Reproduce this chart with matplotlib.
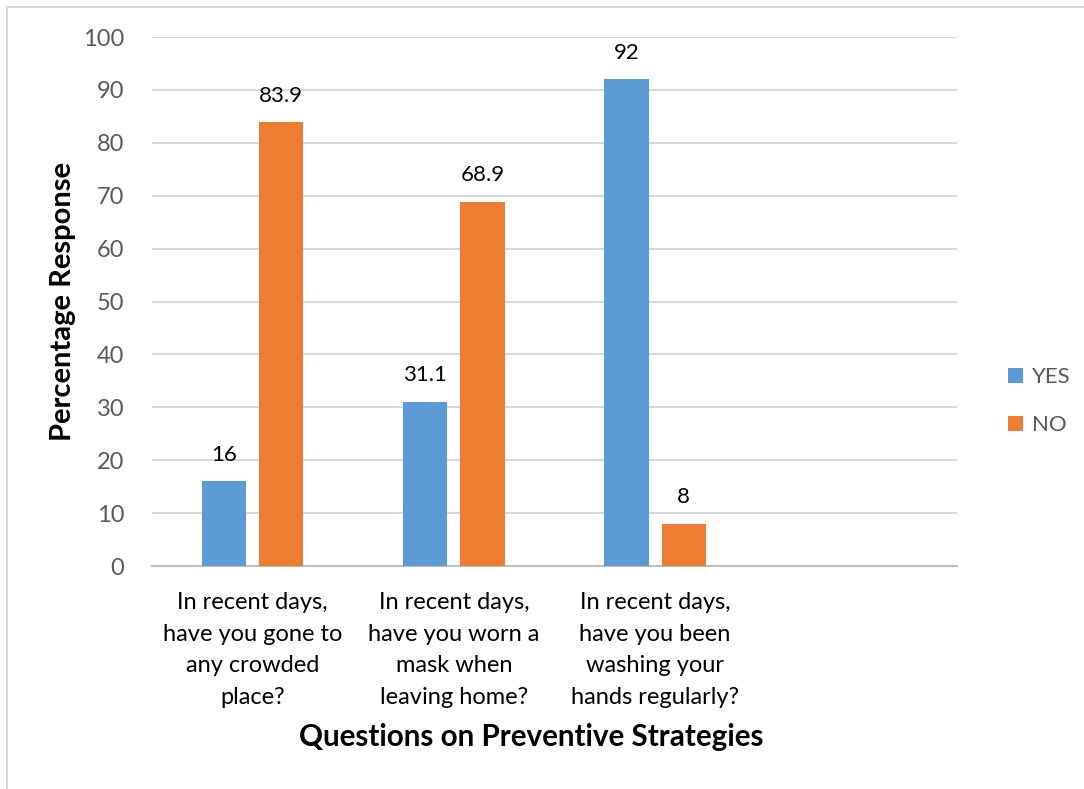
import matplotlib.pyplot as plt
from matplotlib.patches import Patch
from matplotlib.lines import Line2D

plt.rcParams['font.family'] = ['Lato', 'DejaVu Sans']

questions = [
    "In recent days,\nhave you gone to\nany crowded\nplace?",
    "In recent days,\nhave you worn a\nmask when\nleaving home?",
    "In recent days,\nhave you been\nwashing your\nhands regularly?",
    "",
]
yes_vals = [16, 31.1, 92]
no_vals = [83.9, 68.9, 8]
yes_labels = ["16", "31.1", "92"]
no_labels = ["83.9", "68.9", "8"]

blue = '#5b9bd5'
orange = '#ed7d31'
grey_txt = '#595959'

fig = plt.figure(figsize=(10.84, 7.89), dpi=100)
ax = fig.add_axes([0.1402, 0.2826, 0.7426, 0.6705])

w = 0.22
off = 0.1425
xs = list(range(len(yes_vals)))
ax.bar([x - off for x in xs], yes_vals, w, color=blue, zorder=3)
ax.bar([x + off for x in xs], no_vals, w, color=orange, zorder=3)

for x, v, t in zip(xs, yes_vals, yes_labels):
    ax.text(x - off, v + 5, t, ha='center', va='center', fontsize=16, color='black')
for x, v, t in zip(xs, no_vals, no_labels):
    ax.text(x + off, v + 5, t, ha='center', va='center', fontsize=16, color='black')

ax.set_xlim(-0.5, len(questions) - 0.5)
ax.set_ylim(0, 100)
ax.set_yticks(range(0, 101, 10))
ax.yaxis.grid(True, color='#d9d9d9', linewidth=1.5, zorder=0)
ax.set_xticks(range(len(questions)))
ax.set_xticklabels(questions, fontsize=17, color='black', linespacing=1.62)
ax.tick_params(axis='x', length=0, pad=19)
ax.tick_params(axis='y', length=0, pad=20, labelsize=17, labelcolor=grey_txt)
for s in ['top', 'right', 'left']:
    ax.spines[s].set_visible(False)
ax.spines['bottom'].set_color('#bfbfbf')
ax.spines['bottom'].set_linewidth(1.5)

ax.set_ylabel('Percentage Response', fontsize=21, fontweight='bold')
ax.yaxis.set_label_coords(-0.095, 0.5)
fig.text(531 / 1084, 1 - 737 / 789, 'Questions on Preventive Strategies', ha='center', va='center',
         fontsize=21.3, fontweight='bold')

handles = [Patch(facecolor=blue, label='YES'), Patch(facecolor=orange, label='NO')]
leg = fig.legend(handles=handles, loc='center left', bbox_to_anchor=(0.911, 0.4915),
                 frameon=False, fontsize=16, handlelength=0.7, handleheight=0.7,
                 handletextpad=0.4, labelspacing=1.25)
for t in leg.get_texts():
    t.set_color(grey_txt)

# thin frame along the left and top edges
fig.add_artist(Line2D([7 / 1084, 7 / 1084], [0, 1 - 7 / 789], color='#d9d9d9', lw=1.5))
fig.add_artist(Line2D([7 / 1084, 1], [1 - 7 / 789, 1 - 7 / 789], color='#d9d9d9', lw=1.5))

fig.savefig('out.png', dpi=100)
